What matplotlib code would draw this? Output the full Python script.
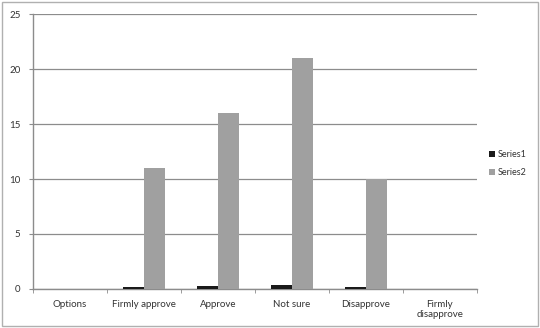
import numpy as np
import matplotlib
matplotlib.use("Agg")
import matplotlib.pyplot as plt
from matplotlib.patches import Rectangle

categories = ["Options", "Firmly approve", "Approve", "Not sure", "Disapprove", "Firmly\ndisapprove"]
series1 = [0, 0.19, 0.28, 0.36, 0.17, 0]
series2 = [0, 11, 16, 21, 10, 0]
yticks = [0, 5, 10, 15, 20, 25]

plt.rcParams['font.family'] = ['Lato', 'DejaVu Sans']

fig = plt.figure(figsize=(5.4, 3.28), dpi=100)
ax = fig.add_axes([0.061, 0.119, 0.822, 0.838])

# outer chart border
fig.patches.append(Rectangle((0.004, 0.006), 0.992, 0.988, transform=fig.transFigure,
                             fill=False, edgecolor="#b0b0b0", linewidth=1))

x = np.arange(len(categories))
w = 1 / 3.5
ax.bar(x - w / 2, series1, w, color="#1a1a1a", label="Series1", zorder=3)
ax.bar(x + w / 2, series2, w, color="#a0a0a0", label="Series2", zorder=3)

ax.set_xlim(-0.5, len(categories) - 0.5)
ax.set_ylim(0, 25)
ax.set_yticks(yticks)
ax.yaxis.grid(True, color="#8c8c8c", linewidth=0.9, zorder=0)

ax.set_xticks(x)
ax.set_xticklabels(categories, fontsize=7, color="#333333")
ax.set_xticks(np.arange(len(categories) + 1) - 0.5, minor=True)
ax.tick_params(axis="x", which="major", length=0, pad=8)
ax.tick_params(axis="x", which="minor", length=3, color="#8c8c8c")
ax.tick_params(axis="y", length=3, color="#8c8c8c", labelsize=7, labelcolor="#333333", pad=6)

for side in ["top", "right"]:
    ax.spines[side].set_visible(False)
for side in ["left", "bottom"]:
    ax.spines[side].set_color("#8c8c8c")
    ax.spines[side].set_linewidth(1)

ax.legend(loc="center left", bbox_to_anchor=(1.01, 0.455), frameon=False, fontsize=6.5,
          handlelength=0.6, handleheight=0.6, handletextpad=0.3, labelspacing=1.0,
          labelcolor="#333333")

fig.savefig("out.png", dpi=100)
